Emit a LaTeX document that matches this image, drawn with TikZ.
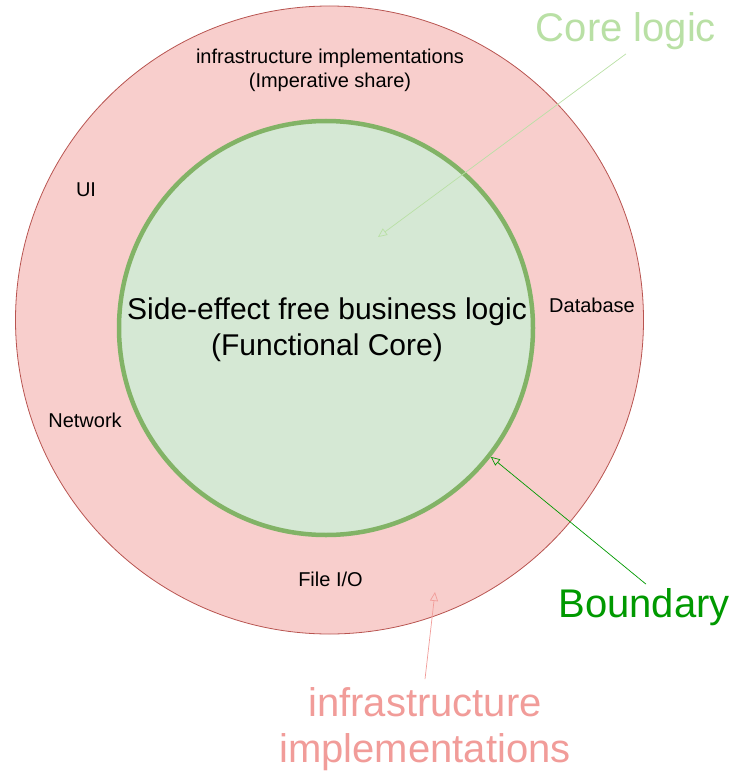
\documentclass[tikz,border=0pt]{standalone}
\usepackage{fontspec}
\setmainfont{Liberation Sans}
\usetikzlibrary{arrows.meta}

\definecolor{outerfill}{HTML}{F8CECC}
\definecolor{outerline}{HTML}{B85450}
\definecolor{innerfill}{HTML}{D5E8D4}
\definecolor{innerline}{HTML}{82B366}
\definecolor{corecol}{HTML}{B9E0A5}
\definecolor{boundcol}{HTML}{009900}
\definecolor{infracol}{HTML}{F19C99}

\begin{document}
\begin{tikzpicture}[x=1pt,y=-1pt,
    small/.style={font=\fontsize{20}{24}\selectfont,align=center,inner sep=0pt},
    big/.style={font=\fontsize{40}{46}\selectfont,align=center,inner sep=0pt},
    pointer/.style={-{Triangle[open,length=9pt,width=8pt]},line width=.7pt}]
    \useasboundingbox (0,0) rectangle (751,773);

    % the two rings
    \node[circle,draw=outerline,fill=outerfill,line width=.8pt,minimum size=628pt,inner sep=0pt] (shell) at (329.5,320) {};
    \node[circle,draw=innerline,fill=innerfill,line width=4.5pt,minimum size=414pt,inner sep=0pt] (core) at (326,328) {};

    \node[font=\fontsize{30}{36}\selectfont,align=center,inner sep=0pt] (coretext) at (327,330) {Side-effect free business logic\\(Functional Core)};
    \node[small] (imper) at (330,70) {infrastructure implementations\\(Imperative share)};
    \node[small] (ui) at (86,190) {UI};
    \node[small] (network) at (85,420) {Network};
    \node[small] (database) at (592,305) {Database};
    \node[small] (fileio) at (330.5,579) {File I/O};

    % callouts
    \node[big,text=corecol] (corelbl) at (626,31) {Core logic};
    \node[big,text=boundcol] (boundlbl) at (644,607) {Boundary};
    \node[big,text=infracol] (infralbl) at (425,729) {infrastructure\\implementations};

    \coordinate (coretip) at (378,237);
    \coordinate (infratip) at (435,592);

    \draw[pointer,corecol] (corelbl.south) ++(0,4) -- (coretip);
    \draw[pointer,boundcol] (boundlbl.north) ++(2,-4) -- (core.-38);
    \draw[pointer,infracol] (infralbl.north) ++(0,-8) -- (infratip);
\end{tikzpicture}
\end{document}
